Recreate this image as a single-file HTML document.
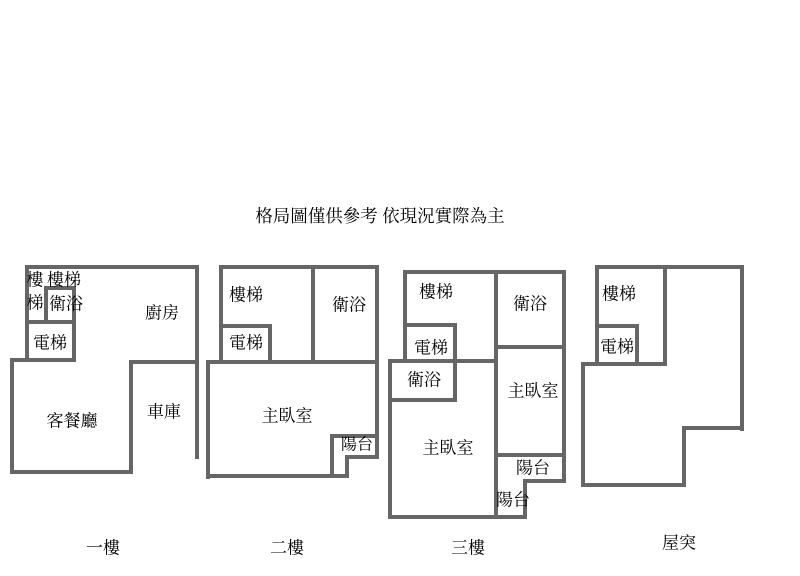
<!DOCTYPE html>
<html><head><meta charset="utf-8"><style>
html,body{margin:0;padding:0;background:#fff;width:800px;height:576px;overflow:hidden}
svg text{font-family:"Liberation Serif","Noto Serif CJK SC","Noto Sans CJK TC",serif;font-size:17px;fill:#000;text-anchor:middle;dominant-baseline:central}
</style></head><body>
<svg width="800" height="576" viewBox="0 0 800 576" xmlns="http://www.w3.org/2000/svg">
<g stroke="#666" stroke-width="4" fill="none" stroke-linecap="square">
<path d="M27 267H197V457"/>
<path d="M27 267V360"/>
<path d="M46 288H74V360"/>
<path d="M46 288V322"/>
<path d="M27 322H74"/>
<path d="M12 360H74"/>
<path d="M12 360V472H131V362H197"/>
<path d="M221 267H377V457"/>
<path d="M221 267V362"/>
<path d="M221 326H270V362"/>
<path d="M313 267V362"/>
<path d="M208 362H377"/>
<path d="M208 362V477"/>
<path d="M208 476H347V457H377"/>
<path d="M332 476V436H377"/>
<path d="M405 272H564V481"/>
<path d="M405 272V361"/>
<path d="M405 325H455V400H390"/>
<path d="M390 361H496"/>
<path d="M390 361V517H525V481H564"/>
<path d="M496 272V517"/>
<path d="M496 347H564"/>
<path d="M496 455H564"/>
<path d="M597 267H742V429"/>
<path d="M597 267V364"/>
<path d="M665 267V364"/>
<path d="M597 326H637V364"/>
<path d="M583 364H665"/>
<path d="M583 364V485H684V428H742"/>
</g>
<text x="380" y="216" style="font-size:17.5px">格局圖僅供參考 依現況實際為主</text>
<text x="35" y="280">樓</text>
<text x="35" y="303">梯</text>
<text x="64" y="280">樓梯</text>
<text x="66" y="304">衛浴</text>
<text x="50" y="343">電梯</text>
<text x="162" y="313">廚房</text>
<text x="72" y="421">客餐廳</text>
<text x="164" y="412">車庫</text>
<text x="246" y="295">樓梯</text>
<text x="349" y="305">衛浴</text>
<text x="246" y="343">電梯</text>
<text x="287" y="416">主臥室</text>
<text x="357" y="445" style="font-size:16px">陽台</text>
<text x="436" y="292">樓梯</text>
<text x="530" y="304">衛浴</text>
<text x="431" y="348">電梯</text>
<text x="424" y="380">衛浴</text>
<text x="448" y="448">主臥室</text>
<text x="533" y="391">主臥室</text>
<text x="533" y="468">陽台</text>
<text x="513" y="500">陽台</text>
<text x="619" y="294">樓梯</text>
<text x="617" y="347">電梯</text>
<text x="103" y="548">一樓</text>
<text x="287" y="548">二樓</text>
<text x="468" y="548">三樓</text>
<text x="679" y="543">屋突</text>
</svg>
</body></html>
